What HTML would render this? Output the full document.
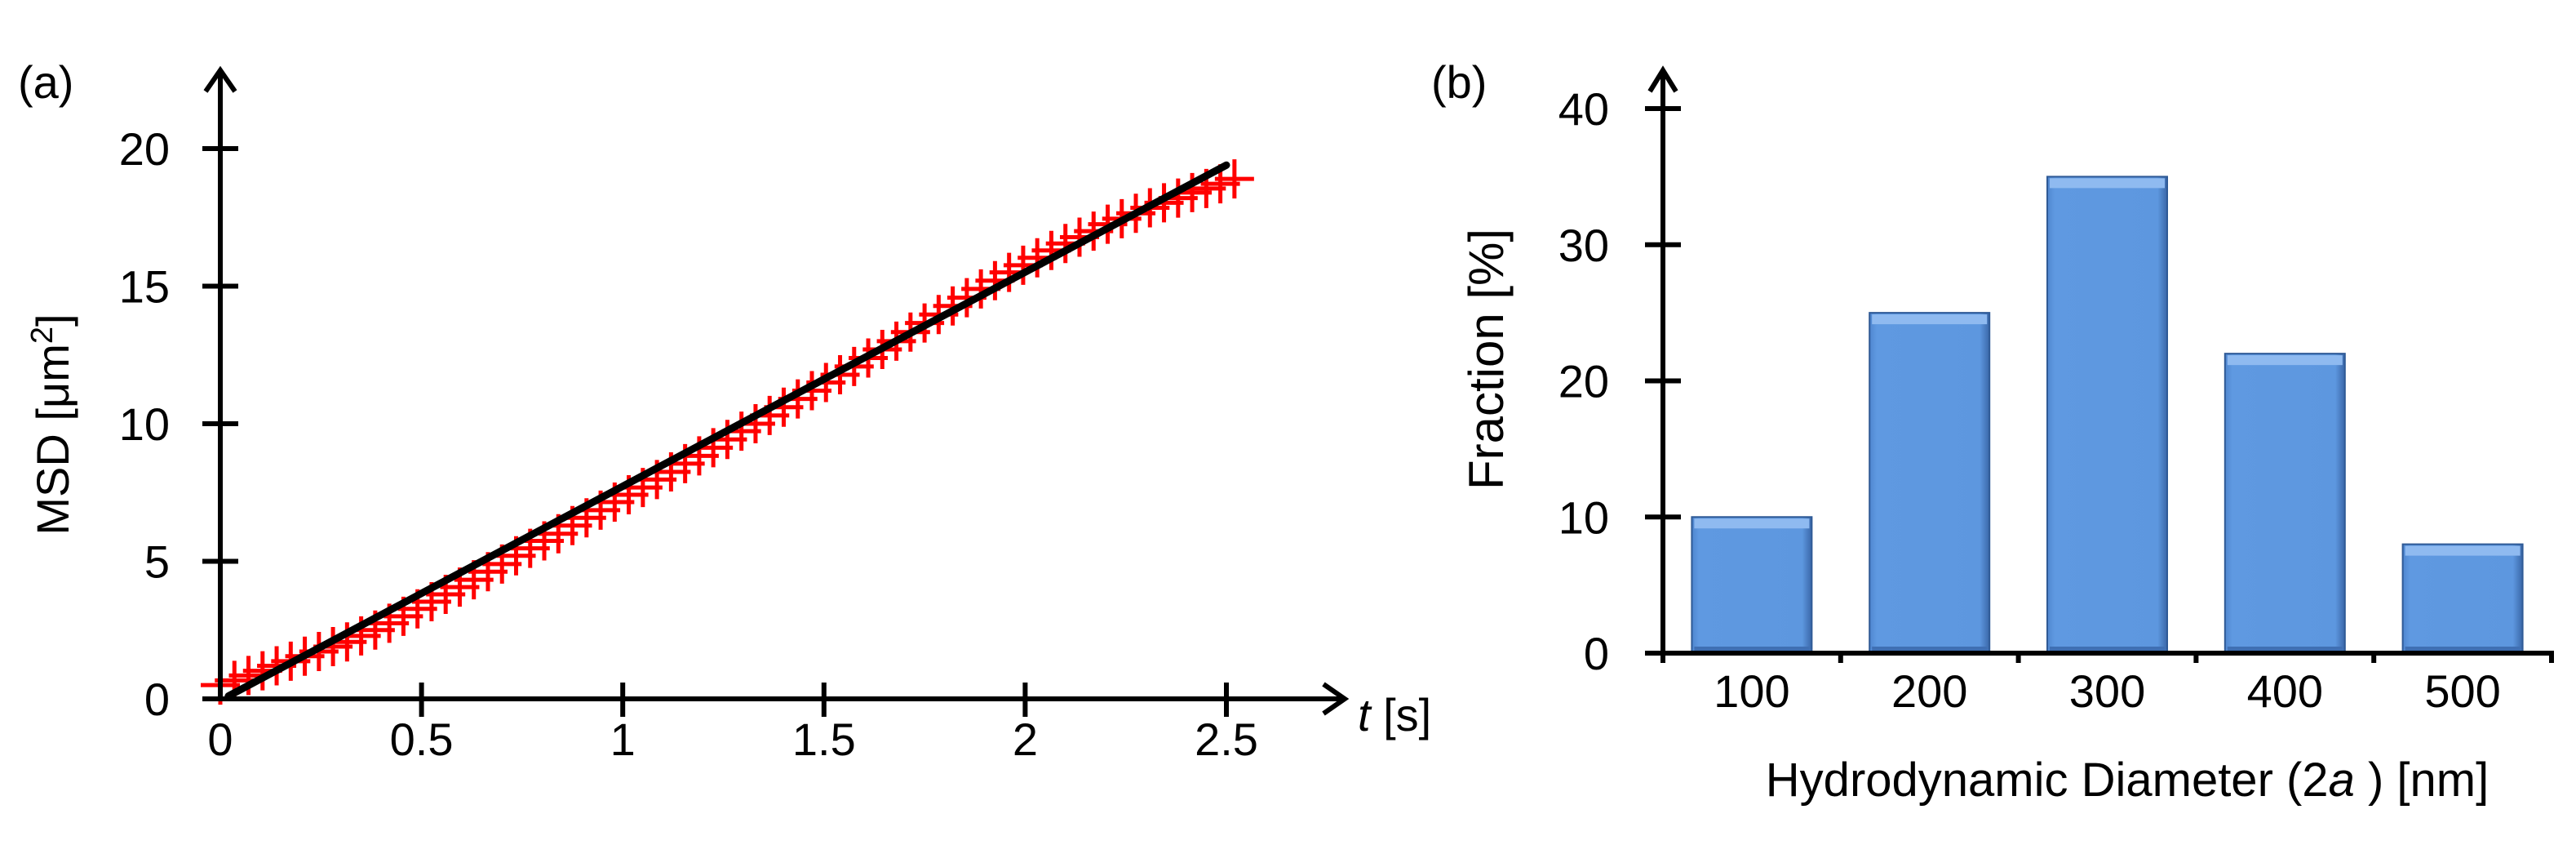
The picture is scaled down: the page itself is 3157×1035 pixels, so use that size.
<!DOCTYPE html>
<html><head><meta charset="utf-8"><style>
html,body{margin:0;padding:0;background:#fff;}
svg{display:block;}
text{font-family:"Liberation Sans",Arial,sans-serif;fill:#000;}
</style></head><body>
<svg id="fig" width="3157" height="1035" viewBox="0 0 3157 1035" xmlns="http://www.w3.org/2000/svg">
<defs>
<linearGradient id="barGrad" x1="0" x2="1" y1="0" y2="0">
<stop offset="0" stop-color="#4f86cf"/><stop offset="0.06" stop-color="#5f99e1"/><stop offset="0.92" stop-color="#5d97df"/><stop offset="1" stop-color="#3a67a8"/>
</linearGradient>
</defs>
<g id="panelA"></g>
<g id="panelB"></g>
</svg>
<script>
// ---- Panel (a) data ----
const msdTimes = [0,0.035,0.07,0.105,0.14,0.175,0.21,0.245,0.28,0.315,0.35,0.385,0.42,0.455,0.49,0.525,0.56,0.595,0.63,0.665,0.70,0.735,0.77,0.805,0.84,0.875,0.91,0.945,0.98,1.015,1.05,1.085,1.12,1.155,1.19,1.225,1.26,1.295,1.33,1.365,1.40,1.435,1.47,1.505,1.54,1.575,1.61,1.645,1.68,1.715,1.75,1.785,1.82,1.855,1.89,1.925,1.96,1.995,2.03,2.065,2.10,2.135,2.17,2.205,2.24,2.275,2.31,2.345,2.38,2.415,2.45,2.485,2.52];
const msdValues = [0.5,0.67,0.85,1.02,1.2,1.37,1.55,1.72,1.9,2.07,2.29,2.5,2.75,3.0,3.27,3.53,3.8,4.06,4.33,4.62,4.9,5.2,5.47,5.74,6.0,6.3,6.58,6.86,7.15,7.42,7.68,7.97,8.25,8.55,8.83,9.13,9.43,9.73,10.0,10.3,10.6,10.9,11.2,11.5,11.78,12.08,12.39,12.7,13.0,13.33,13.66,13.97,14.28,14.58,14.9,15.2,15.5,15.76,16.03,16.3,16.55,16.78,17.0,17.25,17.45,17.65,17.85,18.03,18.2,18.4,18.55,18.72,18.9];
const fitTimes = [0.02,2.5];
const fitValues = [0.1,19.4];
const xTicksA = [0,0.5,1,1.5,2,2.5];
const xTickLabelsA = ["0","0.5","1","1.5","2","2.5"];
const yTicksA = [0,5,10,15,20];
const yTickLabelsA = ["0","5","10","15","20"];
// ---- Panel (b) data ----
const sizeCategories = ["100","200","300","400","500"];
const fractionValues = [10,25,35,22,8];
const yTicksB = [0,10,20,30,40];
const yTickLabelsB = ["0","10","20","30","40"];

const NS="http://www.w3.org/2000/svg";
function mk(parent,tag,attrs,text){const e=document.createElementNS(NS,tag);for(const k in attrs)e.setAttribute(k,attrs[k]);if(text!==undefined)e.textContent=text;parent.appendChild(e);return e;}

// Panel A
const A=document.getElementById('panelA');
const xA=v=>270+v*(1503-270)/2.5;
const yA=v=>856-v*(856-182)/20;
let e;
const marks=mk(A,'g',{});


msdTimes.forEach((t,i)=>{
  const cx=xA(t),cy=yA(msdValues[i]);
  const p=mk(marks,'path',{d:`M${cx-24},${cy}H${cx+24}M${cx},${cy-24}V${cy+24}`,stroke:'#ff0000','stroke-width':5,fill:'none'});
  
  
});
e=mk(A,'path',{d:`M270,${yA(0)}V88M252,112L270,86L288,112`,stroke:'#000','stroke-width':6,fill:'none'});


e=mk(A,'path',{d:`M248,${yA(0)}H1646M1622,838L1648,856L1622,874`,stroke:'#000','stroke-width':6,fill:'none'});


e=mk(A,'line',{x1:xA(fitTimes[0]),y1:yA(fitValues[0]),x2:xA(fitTimes[1]),y2:yA(fitValues[1]),stroke:'#000','stroke-width':9,'stroke-linecap':'round'});


yTicksA.forEach((v,i)=>{
  const y=yA(v);
  const t=mk(A,'line',{x1:248,x2:292,y1:y,y2:y,stroke:'#000','stroke-width':6});
  
  
  const l=mk(A,'text',{x:208,y:y+20,'text-anchor':'end','font-size':56},yTickLabelsA[i]);
  
  
});
xTicksA.forEach((v,i)=>{
  const x=xA(v);
  if(i>0){const t=mk(A,'line',{x1:x,x2:x,y1:836,y2:878,stroke:'#000','stroke-width':6});
  
  }
  const l=mk(A,'text',{x:x,y:925,'text-anchor':'middle','font-size':56},xTickLabelsA[i]);
  
  
});
e=mk(A,'text',{x:0,y:0,'text-anchor':'middle','font-size':56,transform:'translate(84,520) rotate(-90)'});
e.innerHTML='MSD [μm<tspan dy="-20" font-size="38">2</tspan><tspan dy="20">]</tspan>';


e=mk(A,'text',{x:1664,y:895,'font-size':56});
e.innerHTML='<tspan font-style="italic">t</tspan>  [s]';


e=mk(A,'text',{x:22,y:120,'font-size':56},'(a)');



// Panel B
const B=document.getElementById('panelB');
const x0B=2038,catW=(3127-2038)/sizeCategories.length;
const yB=v=>800-v*(800-133)/40;
const barW=147;
fractionValues.forEach((v,i)=>{
  const cx=x0B+catW*(i+0.5),top=yB(v);
  const g=mk(B,'g',{});
  
  
  mk(g,'rect',{x:cx-barW/2,y:top,width:barW,height:yB(0)-top,fill:'url(#barGrad)',stroke:'#2f5a96','stroke-width':2});
  mk(g,'rect',{x:cx-barW/2+3,y:top+2,width:barW-6,height:12,fill:'#8fbaf0'});
  mk(g,'rect',{x:cx-barW/2+3,y:yB(0)-8,width:barW-6,height:6,fill:'#3f6fb3'});
});
e=mk(B,'path',{d:`M${x0B},803V89M2022,112L${x0B},86L2054,112`,stroke:'#000','stroke-width':6,fill:'none'});


e=mk(B,'path',{d:`M2016,800H3130`,stroke:'#000','stroke-width':6,fill:'none'});


for(let i=0;i<=sizeCategories.length;i++){
  const x=x0B+catW*i;
  const t=mk(B,'line',{x1:x,x2:x,y1:800,y2:812,stroke:'#000','stroke-width':6});
  
  
}
sizeCategories.forEach((c,i)=>{
  const l=mk(B,'text',{x:x0B+catW*(i+0.5),y:866,'text-anchor':'middle','font-size':56},c);
  
  
});
yTicksB.forEach((v,i)=>{
  const y=yB(v);
  const t=mk(B,'line',{x1:2016,x2:2060,y1:y,y2:y,stroke:'#000','stroke-width':6});
  
  
  const l=mk(B,'text',{x:1972,y:y+20,'text-anchor':'end','font-size':56},yTickLabelsB[i]);
  
  
});
e=mk(B,'text',{x:0,y:0,'text-anchor':'middle','font-size':60,transform:'translate(1842,440) rotate(-90)'});
e.innerHTML='Fraction  [%]';


e=mk(B,'text',{x:2607,y:975,'text-anchor':'middle','font-size':58});
e.innerHTML='Hydrodynamic Diameter (2<tspan font-style="italic">a</tspan> ) [nm]';


e=mk(B,'text',{x:1754,y:120,'font-size':56},'(b)');


</script>
</body></html>
